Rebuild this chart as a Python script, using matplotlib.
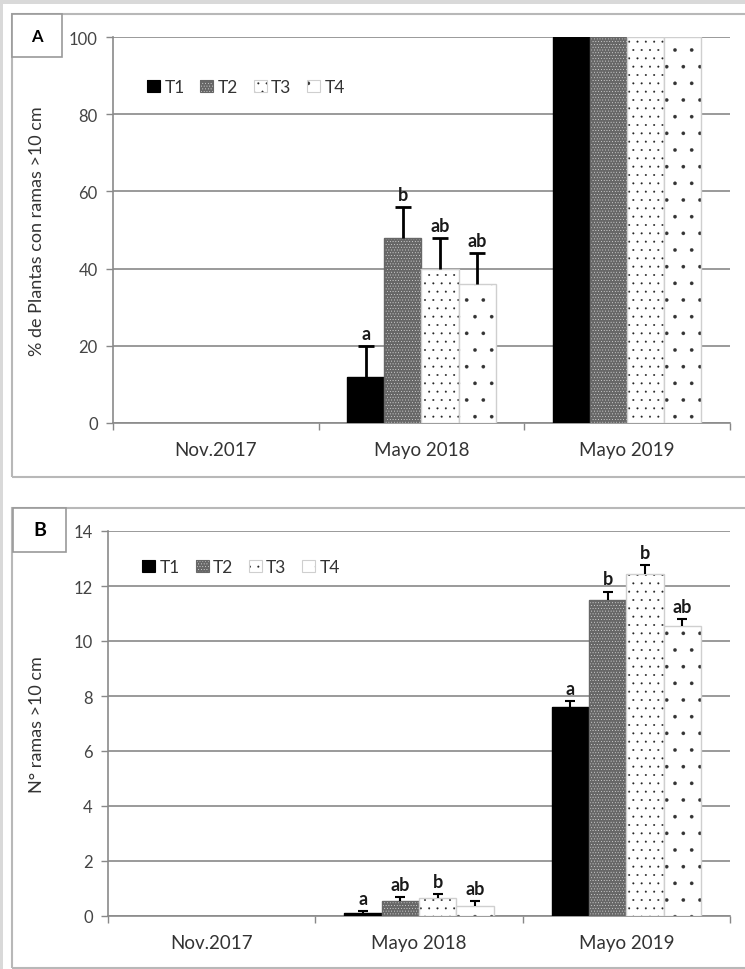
import numpy as np
import matplotlib.pyplot as plt
from matplotlib.patches import Rectangle, Patch
from matplotlib.legend_handler import HandlerTuple

plt.rcParams['font.family'] = ['Lato', 'DejaVu Sans']
plt.rcParams['hatch.linewidth'] = 0.2

periods = ["Nov.2017", "Mayo 2018", "Mayo 2019"]
treatments = ["T1", "T2", "T3", "T4"]

# panel A: % plantas con ramas >10 cm (rows = treatments, cols = periods)
pct_a = np.array([[0, 12, 100],
                  [0, 48, 100],
                  [0, 40, 100],
                  [0, 36, 100]])
err_a = np.array([[0, 8, 0],
                  [0, 8, 0],
                  [0, 8, 0],
                  [0, 8, 0]])
let_a = [["", "a", ""],
         ["", "b", ""],
         ["", "ab", ""],
         ["", "ab", ""]]

# panel B: N° ramas >10 cm
num_b = np.array([[0, 0.10, 7.6],
                  [0, 0.55, 11.5],
                  [0, 0.65, 12.45],
                  [0, 0.38, 10.55]])
err_b = np.array([[0, 0.08, 0.22],
                  [0, 0.15, 0.30],
                  [0, 0.15, 0.30],
                  [0, 0.15, 0.25]])
let_b = [["", "a", "a"],
         ["", "ab", "b"],
         ["", "b", "b"],
         ["", "ab", "ab"]]

faces = ["black", "#676767", "white", "white"]
hatches = [None, "......", "..", "."]
hatch_cols = ["black", "white", "#222222", "#333333"]
edges = ["black", "#676767", "#cfcfcf", "#cfcfcf"]

fig = plt.figure(figsize=(7.45, 9.70), dpi=100)
fig.patch.set_facecolor("white")

W, H = 745, 970


def fig_rect(x0, y0, x1, y1, **kw):
    # pixel box (top-left origin) -> figure patch
    r = Rectangle((x0 / W, 1 - y1 / H), (x1 - x0) / W, (y1 - y0) / H,
                  transform=fig.transFigure, **kw)
    fig.patches.append(r)


# grey frame and panel boxes
fig_rect(0, 0, W, 5, facecolor="#d9d9d9", edgecolor="none")
fig_rect(0, 0, 3, H, facecolor="#d9d9d9", edgecolor="none")
fig_rect(12, 15, W + 5, 478, facecolor="none", edgecolor="#b8b8b8", lw=1.5)
fig_rect(12, 509, W + 5, 969, facecolor="none", edgecolor="#b8b8b8", lw=1.5)
fig_rect(12, 15, 62, 58, facecolor="white", edgecolor="#999999", lw=1.2)
fig_rect(13, 509, 66, 553, facecolor="white", edgecolor="#999999", lw=1.2)
fig.text(37 / W, 1 - 37 / H, "A", ha="center", va="center", fontsize=12, fontweight="bold")
fig.text(40 / W, 1 - 531 / H, "B", ha="center", va="center", fontsize=14, fontweight="bold")

axA = fig.add_axes([113 / W, 1 - 424 / H, 617 / W, 386 / H])
axB = fig.add_axes([108 / W, 1 - 917 / H, 622 / W, 385 / H])

width = 0.18
x = np.arange(len(periods))


def draw(ax, vals, errs, lets, ymax, step, ylabel, cap, elw, leg_y, lab_x):
    for i in range(len(treatments)):
        pos = x + (i - 1.5) * width
        v = vals[i] > 0
        ax.bar(pos[v], vals[i][v], width, color=faces[i], hatch=hatches[i],
               edgecolor=hatch_cols[i], linewidth=0, zorder=3)
        ax.bar(pos[v], vals[i][v], width, facecolor="none", edgecolor=edges[i],
               linewidth=1, zorder=3)
        m = errs[i] > 0
        ax.vlines(pos[m], vals[i][m], vals[i][m] + errs[i][m], color="black",
                  lw=elw, zorder=4)
        ax.plot(pos[m], vals[i][m] + errs[i][m], ls="none", marker="_",
                ms=cap, mew=elw, color="black", zorder=4)
        for j in range(len(periods)):
            if lets[i][j]:
                ax.annotate(lets[i][j], (pos[j], vals[i][j] + errs[i][j]),
                            xytext=(0, 3), textcoords="offset points",
                            ha="center", va="bottom", fontsize=13,
                            fontweight="bold", color="#1a1a1a")
    ax.set_xlim(-0.5, 2.5)
    ax.set_ylim(0, ymax)
    ax.set_yticks(np.arange(0, ymax + step / 2, step))
    ax.yaxis.grid(True, color="#9a9a9a", lw=1.4)
    ax.set_axisbelow(True)
    ax.set_xticks([-0.5, 0.5, 1.5, 2.5])
    ax.set_xticklabels([])
    ax.set_xticks(x, periods, minor=True)
    ax.tick_params(axis="x", which="minor", length=0, labelsize=13.5, pad=13,
                   colors="#333333")
    ax.tick_params(axis="x", which="major", length=5, width=1, color="#888888",
                   direction="out")
    ax.tick_params(axis="y", length=5, width=1, color="#888888", labelsize=12,
                   labelcolor="#444444", pad=6)
    for s in ["top", "right"]:
        ax.spines[s].set_visible(False)
    for s in ["left", "bottom"]:
        ax.spines[s].set_color("#8a8a8a")
        ax.spines[s].set_linewidth(1.2)
    ax.set_ylabel(ylabel, fontsize=13, color="#333333")
    ax.yaxis.set_label_coords(lab_x, 0.5)
    handles = [(Patch(facecolor=faces[i], hatch=hatches[i], edgecolor=hatch_cols[i],
                      linewidth=0),
                Patch(facecolor="none", edgecolor=edges[i], linewidth=0.8))
               for i in range(len(treatments))]
    ax.legend(handles, treatments, loc="center left", bbox_to_anchor=(0.03, leg_y),
              ncol=4, frameon=False, fontsize=12.5, handlelength=0.75,
              handleheight=0.75, handletextpad=0.25, columnspacing=0.9,
              handler_map={tuple: HandlerTuple(ndivide=1, pad=0)},
              labelcolor="#333333")


draw(axA, pct_a, err_a, let_a, 100, 20, "% de Plantas con ramas >10 cm",
     12, 2, 0.87, -0.11)
draw(axB, num_b, err_b, let_b, 14, 2, "N° ramas >10 cm",
     7, 1.5, 0.906, -0.101)

fig.savefig("out.png", dpi=100)
